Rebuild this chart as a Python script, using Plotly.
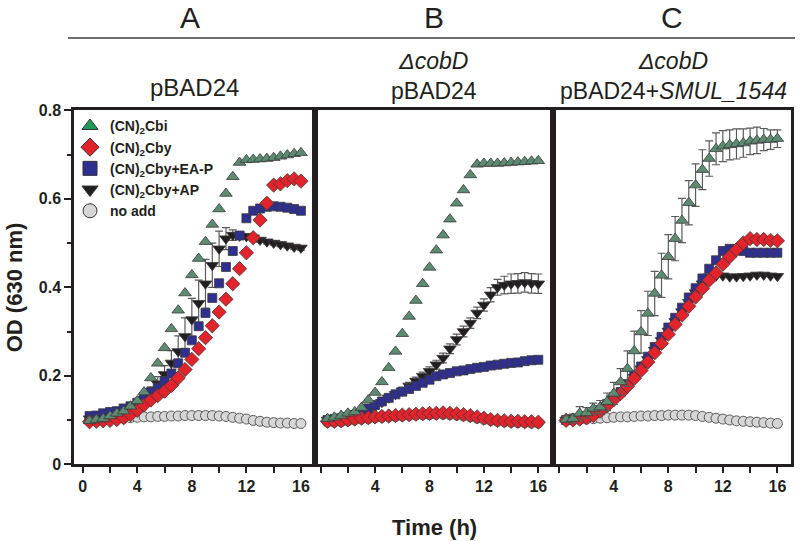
import plotly.graph_objects as go

# ---------------- data ----------------
TIME = [0.5, 1.0, 1.5, 2.0, 2.5, 3.0, 3.5, 4.0, 4.5, 5.0, 5.5, 6.0, 6.5, 7.0, 7.5, 8.0,
        8.5, 9.0, 9.5, 10.0, 10.5, 11.0, 11.5, 12.0, 12.5, 13.0, 13.5, 14.0, 14.5, 15.0, 15.5, 16.0]

SERIES_NAMES = ["(CN)<sub>2</sub>Cbi", "(CN)<sub>2</sub>Cby", "(CN)<sub>2</sub>Cby+EA-P",
                "(CN)<sub>2</sub>Cby+AP", "no add"]

# Panel A: pBAD24
A_cbi = [0.098, 0.101, 0.103, 0.109, 0.115, 0.120, 0.131, 0.143, 0.163, 0.195, 0.228, 0.263, 0.306, 0.348, 0.387, 0.428,
         0.465, 0.503, 0.542, 0.577, 0.612, 0.650, 0.682, 0.688, 0.689, 0.690, 0.691, 0.693, 0.696, 0.699, 0.702, 0.704]
A_cby = [0.096, 0.097, 0.098, 0.099, 0.101, 0.105, 0.112, 0.122, 0.134, 0.145, 0.155, 0.165, 0.178, 0.195, 0.214, 0.237,
         0.261, 0.286, 0.313, 0.344, 0.373, 0.408, 0.442, 0.478, 0.512, 0.552, 0.590, 0.631, 0.634, 0.641, 0.645, 0.640]
A_eap = [0.109, 0.110, 0.115, 0.118, 0.120, 0.126, 0.131, 0.139, 0.150, 0.163, 0.173, 0.188, 0.205, 0.228, 0.252, 0.280,
         0.312, 0.342, 0.376, 0.409, 0.446, 0.482, 0.517, 0.556, 0.573, 0.578, 0.582, 0.583, 0.582, 0.580, 0.577, 0.573]
A_ap = [0.103, 0.104, 0.106, 0.109, 0.112, 0.117, 0.124, 0.134, 0.147, 0.163, 0.182, 0.203, 0.229, 0.255, 0.289, 0.327,
        0.364, 0.408, 0.450, 0.487, 0.510, 0.518, 0.516, 0.515, 0.512, 0.507, 0.503, 0.500, 0.497, 0.494, 0.491, 0.489]
A_none = [0.099, 0.100, 0.101, 0.102, 0.103, 0.104, 0.105, 0.106, 0.107, 0.107, 0.108, 0.108, 0.109, 0.109, 0.110, 0.110,
          0.110, 0.110, 0.110, 0.109, 0.108, 0.106, 0.104, 0.102, 0.099, 0.097, 0.095, 0.094, 0.093, 0.093, 0.092, 0.092]
A_ap_err = [0.004, 0.004, 0.004, 0.005, 0.005, 0.006, 0.007, 0.008, 0.010, 0.012, 0.016, 0.020, 0.028, 0.035, 0.042, 0.048,
            0.052, 0.055, 0.050, 0.040, 0.025, 0.012, 0.008, 0.006, 0.006, 0.005, 0.005, 0.005, 0.005, 0.005, 0.005, 0.005]

# Panel B: delta cobD pBAD24
B_cbi = [0.103, 0.106, 0.110, 0.115, 0.118, 0.128, 0.145, 0.162, 0.186, 0.218, 0.255, 0.295, 0.334, 0.370, 0.408, 0.445,
         0.484, 0.518, 0.554, 0.590, 0.620, 0.654, 0.678, 0.680, 0.680, 0.680, 0.681, 0.682, 0.683, 0.684, 0.685, 0.686]
B_cby = [0.097, 0.097, 0.098, 0.100, 0.102, 0.104, 0.105, 0.107, 0.108, 0.109, 0.110, 0.111, 0.112, 0.113, 0.114, 0.115,
         0.115, 0.116, 0.115, 0.114, 0.112, 0.110, 0.107, 0.104, 0.101, 0.099, 0.098, 0.097, 0.097, 0.096, 0.096, 0.095]
B_eap = [0.100, 0.102, 0.104, 0.107, 0.111, 0.116, 0.126, 0.134, 0.142, 0.150, 0.158, 0.164, 0.170, 0.177, 0.184, 0.191,
         0.199, 0.203, 0.206, 0.210, 0.212, 0.215, 0.218, 0.220, 0.223, 0.225, 0.227, 0.229, 0.230, 0.233, 0.235, 0.236]
B_ap = [0.100, 0.101, 0.103, 0.106, 0.110, 0.115, 0.122, 0.130, 0.140, 0.150, 0.158, 0.166, 0.177, 0.188, 0.199, 0.210,
        0.225, 0.240, 0.261, 0.282, 0.300, 0.319, 0.342, 0.360, 0.383, 0.400, 0.405, 0.408, 0.409, 0.411, 0.409, 0.408]
B_none = [0.095, 0.095, 0.096, 0.098, 0.100, 0.102, 0.103, 0.105, 0.106, 0.107, 0.108, 0.109, 0.110, 0.111, 0.112, 0.112,
          0.113, 0.113, 0.112, 0.111, 0.109, 0.107, 0.104, 0.101, 0.099, 0.097, 0.096, 0.095, 0.094, 0.094, 0.093, 0.093]
B_ap_err = [0.003, 0.003, 0.003, 0.003, 0.004, 0.004, 0.005, 0.005, 0.006, 0.006, 0.007, 0.008, 0.008, 0.009, 0.009, 0.010,
            0.010, 0.011, 0.011, 0.012, 0.012, 0.012, 0.013, 0.014, 0.016, 0.018, 0.020, 0.022, 0.022, 0.022, 0.022, 0.022]

# Panel C: delta cobD pBAD24+SMUL_1544
C_cbi = [0.101, 0.103, 0.115, 0.116, 0.126, 0.129, 0.141, 0.160, 0.186, 0.216, 0.256, 0.299, 0.341, 0.386, 0.427, 0.469,
         0.510, 0.551, 0.591, 0.631, 0.666, 0.691, 0.713, 0.719, 0.722, 0.724, 0.726, 0.730, 0.732, 0.734, 0.734, 0.736]
C_cby = [0.099, 0.100, 0.102, 0.105, 0.110, 0.120, 0.132, 0.146, 0.160, 0.176, 0.194, 0.212, 0.231, 0.252, 0.273, 0.294,
         0.316, 0.337, 0.357, 0.378, 0.397, 0.416, 0.432, 0.452, 0.469, 0.485, 0.500, 0.510, 0.508, 0.508, 0.506, 0.505]
C_eap = [0.100, 0.102, 0.104, 0.107, 0.113, 0.122, 0.136, 0.151, 0.163, 0.181, 0.201, 0.221, 0.243, 0.265, 0.288, 0.309,
         0.331, 0.354, 0.377, 0.398, 0.420, 0.442, 0.461, 0.482, 0.487, 0.485, 0.482, 0.478, 0.478, 0.478, 0.478, 0.478]
C_ap = [0.100, 0.101, 0.103, 0.106, 0.111, 0.120, 0.133, 0.148, 0.161, 0.178, 0.197, 0.216, 0.237, 0.258, 0.280, 0.301,
        0.323, 0.345, 0.366, 0.388, 0.408, 0.424, 0.426, 0.426, 0.424, 0.424, 0.425, 0.426, 0.428, 0.428, 0.426, 0.425]
C_none = [0.099, 0.100, 0.101, 0.102, 0.103, 0.104, 0.105, 0.106, 0.107, 0.107, 0.108, 0.109, 0.109, 0.110, 0.110, 0.111,
          0.111, 0.111, 0.111, 0.110, 0.108, 0.106, 0.104, 0.102, 0.100, 0.098, 0.097, 0.096, 0.095, 0.094, 0.093, 0.092]
C_cbi_err = [0.006, 0.010, 0.015, 0.012, 0.012, 0.015, 0.020, 0.025, 0.030, 0.040, 0.045, 0.048, 0.050, 0.050, 0.050, 0.050,
             0.050, 0.050, 0.050, 0.048, 0.045, 0.040, 0.036, 0.035, 0.034, 0.034, 0.032, 0.030, 0.030, 0.025, 0.022, 0.020]

X_LABELS_FIRST = [0, 4, 8, 12, 16]
X_LABELS_OTHER = [4, 8, 12, 16]
X_MINOR_FIRST = [2, 6, 10, 14]
X_MINOR_OTHER = [0, 2, 6, 10, 14]
Y_TICKVALS = [0, 0.2, 0.4, 0.6, 0.8]
Y_TICKTEXT = ["0", "0.2", "0.4", "0.6", "0.8"]
Y_MINOR = [0.1, 0.3, 0.5, 0.7]

# ---------------- styling ----------------
FONT = "Liberation Sans, Arial, Helvetica, sans-serif"
INK = "#231f20"
W, H = 800, 541
# observed vertical mapping of the rendering pipeline: screen_y = VS * design_y + VO
VS, VO = 0.969, 7.6

STYLE = {
    "cbi": dict(symbol="triangle-up", color="#5c8b72", legend_color="#23995a", size=11),
    "cby": dict(symbol="diamond", color="#e3232b", legend_color="#e3232b", size=11),
    "eap": dict(symbol="square", color="#2f2f8f", legend_color="#2f2f8f", size=9),
    "ap": dict(symbol="triangle-down", color="#231f20", legend_color="#231f20", size=11),
    "none": dict(symbol="circle", color="#d6d6d6", legend_color="#d6d6d6", size=10),
}

fig = go.Figure()

# Legend entries (legend only)
for key, name in zip(["cbi", "cby", "eap", "ap", "none"], SERIES_NAMES):
    s = STYLE[key]
    fig.add_trace(go.Scatter(
        x=[None], y=[None], mode="markers", name=name, showlegend=True,
        marker=dict(symbol=s["symbol"], color=s["legend_color"], size=14,
                    line=dict(color="#333333", width=1)),
        xaxis="x", yaxis="y"))

panels = [
    ("x", "y", dict(none=A_none, ap=A_ap, eap=A_eap, cby=A_cby, cbi=A_cbi), dict(ap=A_ap_err)),
    ("x2", "y2", dict(none=B_none, ap=B_ap, eap=B_eap, cby=B_cby, cbi=B_cbi), dict(ap=B_ap_err)),
    ("x3", "y3", dict(none=C_none, ap=C_ap, eap=C_eap, cby=C_cby, cbi=C_cbi), dict(cbi=C_cbi_err)),
]

for xa, ya, series, errs in panels:
    for key in ["none", "ap", "eap", "cby", "cbi"]:
        s = STYLE[key]
        err = None
        if key in errs:
            err = dict(type="data", array=errs[key], visible=True, color="#5a5a5a",
                       thickness=1.2, width=4)
        fig.add_trace(go.Scatter(
            x=TIME, y=series[key], mode="markers", showlegend=False, error_y=err,
            marker=dict(symbol=s["symbol"], color=s["color"], size=s["size"],
                        line=dict(color="#3a3a3a", width=0.8)),
            xaxis=xa, yaxis=ya, hoverinfo="skip"))

# ---------------- axes ----------------
def px_x(p):
    return p / W

def px_y(p):
    """target screen pixel (from top) -> paper fraction"""
    d = (p - VO) / VS
    return 1 - d / H

y_dom = [px_y(464), px_y(110)]
x_doms = [[px_x(74), px_x(315)], [px_x(315), px_x(553)], [px_x(553), px_x(791)]]
x_ranges = [[-0.64, 17.03], [-0.42, 17.08], [-0.46, 17.0]]

tickfont = dict(family=FONT, size=16, color=INK, weight="bold")
common_x = dict(showline=True, linecolor=INK, linewidth=2.5, mirror=True, ticks="outside",
                ticklen=6, tickwidth=2, tickcolor=INK, showgrid=False,
                zeroline=False, tickfont=tickfont, tickmode="array")

layout_axes = {}
for i, (dom, rng) in enumerate(zip(x_doms, x_ranges)):
    suffix = "" if i == 0 else str(i + 1)
    labels = X_LABELS_FIRST if i == 0 else X_LABELS_OTHER
    minor = X_MINOR_FIRST if i == 0 else X_MINOR_OTHER
    layout_axes["xaxis" + suffix] = dict(
        common_x, domain=dom, range=rng,
        tickvals=labels, ticktext=[str(v) for v in labels],
        minor=dict(tickvals=minor, ticks="outside", ticklen=6, tickwidth=2,
                   tickcolor=INK, showgrid=False),
        anchor="y" + suffix)
    yax = dict(domain=y_dom, range=[0, 0.8], showline=True, linecolor=INK, linewidth=2.5,
               mirror=True, showgrid=False, zeroline=False, anchor="x" + suffix)
    if i == 0:
        yax.update(ticks="outside", ticklen=7, tickwidth=2, tickcolor=INK,
                   tickmode="array", tickvals=Y_TICKVALS, ticktext=Y_TICKTEXT, tickfont=tickfont,
                   minor=dict(tickvals=Y_MINOR, ticks="outside", ticklen=4,
                              tickwidth=2, tickcolor=INK, showgrid=False))
    else:
        yax.update(ticks="", showticklabels=False)
    layout_axes["yaxis" + suffix] = yax

fig.update_layout(**layout_axes)

# ---------------- annotations / titles ----------------
ann = []
def txt(x, y, text, size, bold=False, angle=0):
    ann.append(dict(x=px_x(x), y=px_y(y), xref="paper", yref="paper", text=text,
                    showarrow=False, xanchor="center", yanchor="middle", textangle=angle,
                    font=dict(family=FONT, size=size, color=INK,
                              weight="bold" if bold else "normal")))

txt(190, 17, "A", 30)
txt(434, 17, "B", 30)
txt(672, 17, "C", 30)
txt(194, 87, "pBAD24", 24)
txt(434, 76, "<i>ΔcobD</i><br>pBAD24", 23)
txt(673, 76, "<i>ΔcobD</i><br>pBAD24+<i>SMUL_1544</i>", 23)
txt(434, 527, "Time (h)", 22, bold=True)
txt(14, 287, "OD (630 nm)", 22, bold=True, angle=-90)

fig.update_layout(
    annotations=ann,
    shapes=[dict(type="line", xref="paper", yref="paper", x0=px_x(68), x1=px_x(795),
                 y0=px_y(37.5), y1=px_y(37.5), line=dict(color="#3c3c3c", width=1.5))],
    width=W, height=H, margin=dict(l=0, r=0, t=0, b=0),
    paper_bgcolor="white", plot_bgcolor="white",
    showlegend=True,
    legend=dict(x=px_x(70), y=px_y(110), xanchor="left", yanchor="top",
                bgcolor="rgba(0,0,0,0)", tracegroupgap=0,
                font=dict(family=FONT, size=14, color=INK, weight="bold")),
)

fig.write_html("out.html", config={"displayModeBar": False},
               post_script="document.body.style.margin='0px';")
